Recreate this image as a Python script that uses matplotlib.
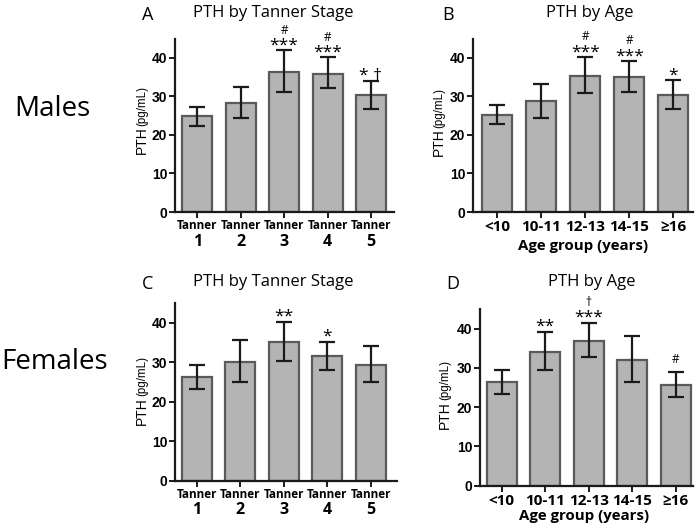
import matplotlib
matplotlib.use("Agg")
import matplotlib.pyplot as plt
from matplotlib import font_manager as fm

# ---------------- data ----------------
tanner_groups = ["1", "2", "3", "4", "5"]
age_groups = ["<10", "10-11", "12-13", "14-15", "≥16"]

male_tanner_mean = [24.8, 28.4, 36.4, 35.9, 30.3]
male_tanner_upper = [27.3, 32.5, 41.9, 40.1, 34.1]
male_tanner_lower = [22.4, 24.5, 31.2, 32.1, 26.8]
male_tanner_star = ["", "", "***", "***", "* †"]
male_tanner_hash = ["", "", "#", "#", ""]

male_age_mean = [25.2, 28.7, 35.3, 34.9, 30.3]
male_age_upper = [27.7, 33.2, 40.2, 39.2, 34.2]
male_age_lower = [22.8, 24.5, 30.9, 31.0, 26.6]
male_age_star = ["", "", "***", "***", "*"]
male_age_hash = ["", "", "#", "#", ""]

female_tanner_mean = [26.3, 30.0, 35.0, 31.5, 29.2]
female_tanner_upper = [29.4, 35.7, 40.3, 35.2, 34.0]
female_tanner_lower = [23.2, 25.0, 30.3, 28.0, 24.9]
female_tanner_star = ["", "", "**", "*", ""]
female_tanner_hash = ["", "", "", "", ""]

female_age_mean = [26.4, 34.0, 36.9, 31.9, 25.6]
female_age_upper = [29.5, 39.2, 41.5, 38.0, 29.0]
female_age_lower = [23.4, 29.5, 32.7, 26.5, 22.5]
female_age_star = ["", "**", "***", "", ""]
female_age_hash = ["", "", "†", "", "#"]

yticks = [0, 10, 20, 30, 40]

# ---------------- style ----------------
W, H = 700, 528
fig = plt.figure(figsize=(7, 5.28), dpi=100)

avail = {f.name for f in fm.fontManager.ttflist}
narrow = "Liberation Sans Narrow" if "Liberation Sans Narrow" in avail else "Liberation Sans"
mainf = "Open Sans"

BAR_FC = "#b4b4b4"
BAR_EC = "#5a5a5a"


def px_axes(l, r, b, t):
    return fig.add_axes([l / W, 1 - b / H, (r - l) / W, (b - t) / H])


def panel(ax, means, upper, lower, stars, hashes, x0, letter, title,
          title_x, letter_x, title_y, tanner, ylab_x, ylab_y):
    xs = list(range(len(means)))
    ax.bar(xs, means, width=0.69, color=BAR_FC, edgecolor=BAR_EC,
           linewidth=1.6, zorder=2)
    yerr = [[m - lo for m, lo in zip(means, lower)],
            [u - m for m, u in zip(means, upper)]]
    ax.errorbar(xs, means, yerr=yerr, fmt="none", ecolor="#1a1a1a",
                elinewidth=1.6, capsize=5.8, capthick=1.6, zorder=3)
    ax.set_ylim(0, 45)
    ax.set_xlim(x0[0], x0[1])
    for s in ["top", "right"]:
        ax.spines[s].set_visible(False)
    for s in ["left", "bottom"]:
        ax.spines[s].set_linewidth(1.6)
        ax.spines[s].set_color("#1a1a1a")
    ax.set_yticks(yticks)
    ax.set_yticklabels([str(v) for v in yticks], fontfamily=narrow,
                       fontweight="bold", fontsize=10)
    ax.tick_params(axis="y", length=4, width=1.4, pad=1.5, color="#1a1a1a")
    ax.set_xticks(xs)
    ax.tick_params(axis="x", length=4, width=1.4, color="#1a1a1a")
    ax.set_xticklabels([""] * len(xs))
    trans = ax.get_xaxis_transform()
    if tanner:
        for i, lab in enumerate(tanner_groups):
            ax.annotate("Tanner", xy=(i, 0), xycoords=trans, xytext=(0, -10),
                        textcoords="offset points", ha="center", va="center",
                        fontfamily=mainf, fontweight="bold", fontsize=8.5)
            ax.annotate(lab, xy=(i, 0), xycoords=trans, xytext=(0, -21.5),
                        textcoords="offset points", ha="center", va="center",
                        fontfamily=mainf, fontweight="bold", fontsize=11.5)
    else:
        for i, lab in enumerate(age_groups):
            ax.annotate(lab, xy=(i, 0), xycoords=trans, xytext=(0, -11),
                        textcoords="offset points", ha="center", va="center",
                        fontfamily=mainf, fontweight="bold", fontsize=11)
    # significance marks
    for i, (st, hs) in enumerate(zip(stars, hashes)):
        if st:
            ax.annotate(st, xy=(i, upper[i]), xytext=(0, 0.5),
                        textcoords="offset points", ha="center", va="baseline",
                        fontfamily=mainf, fontsize=12.5)
        if hs:
            off = 12 if st else 6
            ax.annotate(hs, xy=(i, upper[i]), xytext=(0, off),
                        textcoords="offset points", ha="center", va="baseline",
                        fontfamily=mainf, fontsize=8.5)
    # titles
    fig.text(letter_x / W, 1 - (title_y + 2) / H, letter, fontfamily=mainf,
             fontsize=13, ha="center", va="center")
    fig.text(title_x / W, 1 - title_y / H, title, fontfamily=mainf,
             fontsize=12, ha="center", va="center")
    # y label with mixed sizes ("PTH" larger, "(pg/mL)" smaller)
    fig.text(ylab_x / W, 1 - ylab_y / H, "PTH", rotation=90,
             fontfamily=narrow, fontsize=10, ha="center", va="bottom")
    fig.text((ylab_x + 0.5) / W, 1 - (ylab_y - 28.5) / H, "(pg/mL)",
             rotation=90, fontfamily="Liberation Sans", fontsize=8.3,
             ha="center", va="bottom")


axA = px_axes(175, 394, 212, 38.5)
panel(axA, male_tanner_mean, male_tanner_upper, male_tanner_lower,
      male_tanner_star, male_tanner_hash, (-0.51, 4.53), "A",
      "PTH by Tanner Stage", 273, 148, 13, True, 142, 154)

axB = px_axes(473, 693, 212, 38.5)
panel(axB, male_age_mean, male_age_upper, male_age_lower,
      male_age_star, male_age_hash, (-0.55, 4.45), "B",
      "PTH by Age", 590, 448, 13, False, 439, 156)
fig.text(583 / W, 1 - 246 / H, "Age group (years)", fontfamily=mainf,
         fontweight="bold", fontsize=10.8, ha="center", va="center")

axC = px_axes(175, 397, 480.5, 303)
panel(axC, female_tanner_mean, female_tanner_upper, female_tanner_lower,
      female_tanner_star, female_tanner_hash, (-0.5, 4.6), "C",
      "PTH by Tanner Stage", 273, 148, 282, True, 142, 425)

axD = px_axes(480, 693, 485.5, 309)
panel(axD, female_age_mean, female_age_upper, female_age_lower,
      female_age_star, female_age_hash, (-0.5, 4.4), "D",
      "PTH by Age", 592, 453, 282, False, 445, 429)
fig.text(584 / W, 1 - 516 / H, "Age group (years)", fontfamily=mainf,
         fontweight="bold", fontsize=10.8, ha="center", va="center")

fig.text(52 / W, 1 - 109 / H, "Males", fontfamily=mainf, fontsize=20,
         ha="center", va="center")
fig.text(55 / W, 1 - 362 / H, "Females", fontfamily=mainf, fontsize=20,
         ha="center", va="center")

fig.savefig("out.png", dpi=100)
